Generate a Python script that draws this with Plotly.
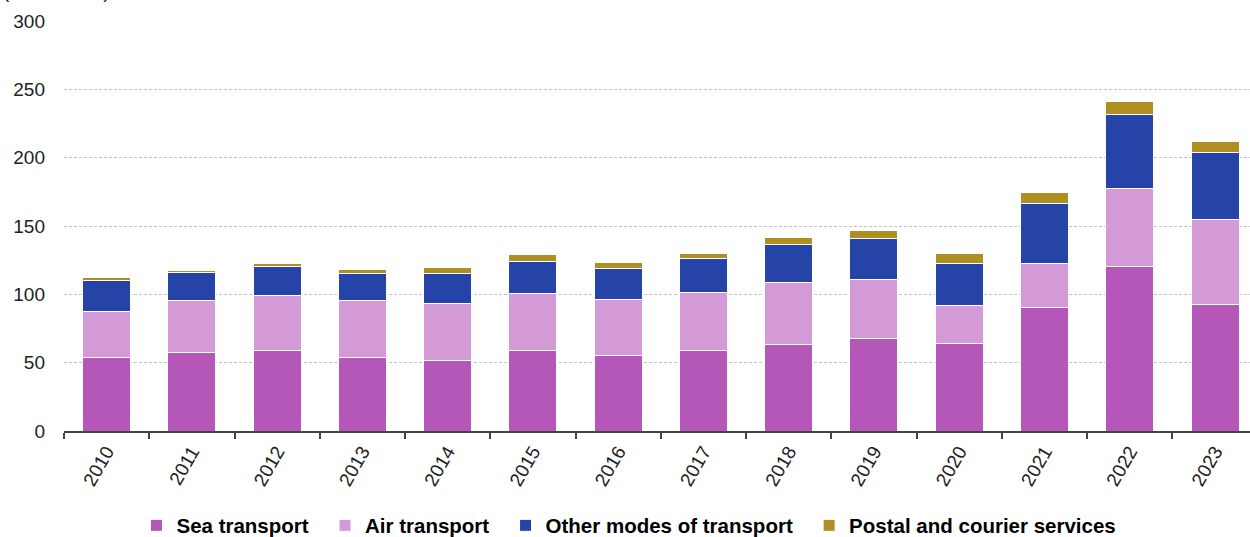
import plotly.graph_objects as go

years = ["2010", "2011", "2012", "2013", "2014", "2015", "2016",
         "2017", "2018", "2019", "2020", "2021", "2022", "2023"]
sea = [53.5, 57.3, 59.2, 53.6, 51.9, 59.2, 55.6, 59.2, 63.6, 67.8, 64.2, 90.3, 120.4, 92.3]
air = [33.9, 37.9, 39.7, 41.6, 41.6, 41.7, 40.4, 42.4, 44.8, 43.4, 27.4, 32.6, 57.1, 62.4]
other = [22.8, 20.6, 21.3, 20.4, 22.1, 23.2, 23.2, 24.5, 27.9, 29.8, 30.8, 43.8, 54.3, 49.0]
postal = [2.0, 1.7, 2.0, 2.9, 4.4, 5.4, 4.4, 4.1, 5.4, 5.6, 7.3, 7.6, 9.3, 8.3]

series = [
    ("Sea transport", sea, "#b556b9"),
    ("Air transport", air, "#d49ad7"),
    ("Other modes of transport", other, "#2644a7"),
    ("Postal and courier services", postal, "#b08f22"),
]

fig = go.Figure()
for name, vals, col in series:
    fig.add_trace(go.Bar(
        x=years, y=vals, name=name + "\u00a0\u00a0",
        marker=dict(color=col, line=dict(color="white", width=1)),
    ))

fig.update_layout(
    barmode="stack",
    bargap=0.437,
    width=1250, height=537,
    margin=dict(l=63.7, r=0, t=20.5, b=106.3, pad=0),
    plot_bgcolor="white", paper_bgcolor="white",
    font=dict(family="Liberation Sans, Arial, sans-serif", size=19, color="#222222"),
    legend=dict(
        orientation="h", x=0.481, xanchor="center",
        yref="container", y=0.0214, yanchor="middle",
        font=dict(family="Liberation Sans, Arial, sans-serif",
                  size=20.5, color="#000000", weight="bold"),
        itemwidth=30, traceorder="normal", tracegroupgap=0,
    ),
    xaxis=dict(
        type="category", range=[-0.5, 13.41], tickson="boundaries",
        ticks="outside", ticklen=6, tickwidth=1.5, tickcolor="#444444",
        showline=True, linecolor="#444444", linewidth=2,
        tickangle=-60, tickfont=dict(size=19, color="#222222"),
        showgrid=False, automargin=False,
    ),
    yaxis=dict(
        range=[0, 300], tickvals=[0, 50, 100, 150, 200, 250, 300],
        showgrid=True, gridcolor="#c4c4c4", gridwidth=1, griddash="3px,2px",
        zeroline=False, ticks="", ticklabelstandoff=18, automargin=False,
        tickfont=dict(size=19, color="#222222"),
    ),
    annotations=[dict(
        text="(EUR billion)", xref="paper", yref="paper", x=-0.0535, y=1.041,
        xanchor="left", yanchor="bottom", showarrow=False,
        font=dict(size=19, color="#222222"),
    )],
)

fig.write_html("out.html", config={"displayModeBar": False},
               post_script="document.body.style.margin='0';")
